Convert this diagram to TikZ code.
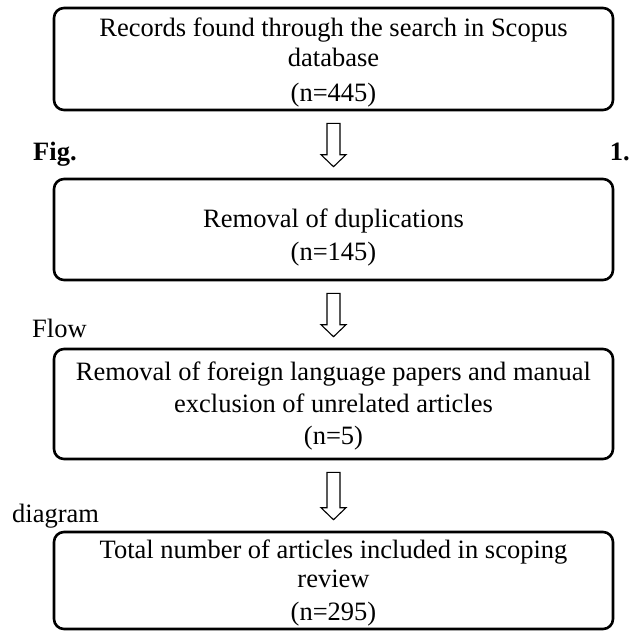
\documentclass[tikz,border=0pt]{standalone}
\usepackage{fontspec}
\setmainfont{Liberation Serif}
\usetikzlibrary{calc}
\tikzset{
  flowbox/.style={draw=black, line width=2.6pt, rounded corners=10pt, minimum width=559pt, inner sep=0pt},
  boxtext/.style={align=center, inner sep=0pt, font=\fontsize{26.5}{30}\selectfont},
  sidelabel/.style={inner sep=0pt, font=\fontsize{26.5}{30}\selectfont},
  blockarrow/.style={draw=black, line width=1.1pt, line join=miter, to path={
    let \p1=(\tikztostart.south), \p2=(\tikztotarget.north) in
    (\x1-6.5pt,\y1-12pt) -- (\x1+6.5pt,\y1-12pt) -- (\x1+6.5pt,\y2+23pt) -- (\x1+12.5pt,\y2+23pt)
    -- (\x1,\y2+11pt) -- (\x1-12.5pt,\y2+23pt) -- (\x1-6.5pt,\y2+23pt) -- cycle}}
}
\begin{document}
\begin{tikzpicture}[x=1pt,y=-1pt]
\useasboundingbox[fill=white] (0,0) rectangle (632,634);
% boxes
\node[flowbox, minimum height=102pt] (b1) at (333.5,59) {};
\node[flowbox, minimum height=101pt] (b2) at (333.5,229.5) {};
\node[flowbox, minimum height=110pt] (b3) at (333.5,404) {};
\node[flowbox, minimum height=97pt] (b4) at (333.5,580.5) {};
% texts
\node[boxtext] (t1) at (333.5,62) {Records found through the search in Scopus\\database\\[5pt](n=445)};
\node[boxtext] (t2) at (333.5,237) {Removal of duplications\\[3pt](n=145)};
\node[boxtext] (t3) at (333.5,405.5) {Removal of foreign language papers and manual\\[2pt]exclusion of unrelated articles\\[2pt](n=5)};
\node[boxtext] (t4) at (333.5,582.5) {Total number of articles included in scoping\\[-1pt]review\\[3pt](n=295)};
% arrows
\draw[blockarrow] (b1) to (b2);
\draw[blockarrow] (b2) to (b3);
\draw[blockarrow] (b3) to (b4);
% side caption fragments
\node[sidelabel, anchor=base west, font=\fontsize{26.5}{30}\selectfont\bfseries] (fig) at (33,160) {Fig.};
\node[sidelabel, anchor=base east, font=\fontsize{26.5}{30}\selectfont\bfseries] (one) at (630,160) {1.};
\node[sidelabel, anchor=base west] (flow) at (32,337) {Flow};
\node[sidelabel, anchor=base west] (diag) at (12,522) {diagram};
\end{tikzpicture}
\end{document}
